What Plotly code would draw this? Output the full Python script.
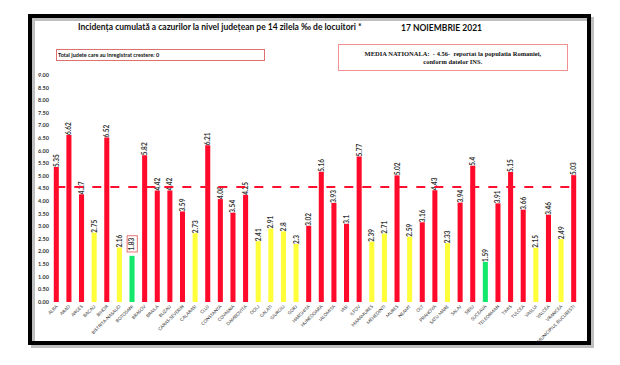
import plotly.graph_objects as go

counties = ["ALBA", "ARAD", "ARGES", "BACAU", "BIHOR", "BISTRITA-NASAUD", "BOTOSANI",
            "BRASOV", "BRAILA", "BUZAU", "CARAS-SEVERIN", "CALARASI", "CLUJ", "CONSTANTA",
            "COVASNA", "DAMBOVITA", "DOLJ", "GALATI", "GIURGIU", "GORJ", "HARGHITA",
            "HUNEDOARA", "IALOMITA", "IASI", "ILFOV", "MARAMURES", "MEHEDINTI", "MURES",
            "NEAMT", "OLT", "PRAHOVA", "SATU MARE", "SALAJ", "SIBIU", "SUCEAVA",
            "TELEORMAN", "TIMIS", "TULCEA", "VASLUI", "VALCEA", "VRANCEA",
            "MUNICIPIUL BUCURESTI"]
incidence = [5.35, 6.62, 4.27, 2.75, 6.52, 2.16, 1.83, 5.82, 4.42, 4.42, 3.59, 2.73,
             6.21, 4.08, 3.54, 4.25, 2.41, 2.91, 2.8, 2.3, 3.02, 5.16, 3.93, 3.1, 5.77,
             2.39, 2.71, 5.02, 2.59, 3.16, 4.43, 2.33, 3.94, 5.4, 1.59, 3.91, 5.15, 3.66,
             2.15, 3.46, 2.49, 5.03]
national_mean = 4.56
boxed_county = "BOTOSANI"
y_ticks = [i * 0.5 for i in range(19)]

RED, YELLOW, GREEN = "#FF0A2A", "#FFFF3A", "#12E86A"
colors = [RED if v >= 3 else (YELLOW if v >= 2 else GREEN) for v in incidence]
labels = ["" if c == boxed_county else f"{v:g}" for c, v in zip(counties, incidence)]

fig = go.Figure()
fig.add_trace(go.Bar(
    x=counties, y=incidence, marker=dict(color=colors, line=dict(width=0)),
    text=labels, textposition="outside", textangle=-90, constraintext="none",
    textfont=dict(family="Lato", size=6.5, color="#333333", weight="bold"),
    cliponaxis=False, showlegend=False,
))
fig.add_trace(go.Scatter(
    x=counties, y=[national_mean] * len(counties), mode="lines",
    line=dict(color="#FF1030", width=2, dash="dash"), showlegend=False,
    hoverinfo="skip",
))

bi = counties.index(boxed_county)
fig.add_annotation(
    x=counties[bi], y=incidence[bi], xref="x", yref="y", text=f"{incidence[bi]:g}",
    textangle=-90, showarrow=False, yanchor="bottom", yshift=3,
    font=dict(family="Lato", size=6.5, color="#333333", weight="bold"),
    bordercolor="#E05050", borderwidth=0.8, borderpad=1,
)

# page has an 8px body margin: work in page pixels, convert to figure pixels
OFF = 8
W, H = 604, 349
L, R, T, B = 50 - OFF, 40 - OFF - 16 + 16, 75 - OFF, 63 - OFF - 8
# plot area (page px): x 50..580, y 75..302
R = W - (580 - OFF)
B = H - (302 - OFF)
pw, ph = W - L - R, H - T - B


def px(x):
    return (x - OFF - L) / pw


def py(y):
    return (H - B - (y - OFF)) / ph


# frame with shadow
fig.add_shape(type="rect", xref="paper", yref="paper",
              x0=px(33), x1=px(592), y0=py(346), y1=py(19),
              line=dict(color="rgba(0,0,0,0.25)", width=4))
fig.add_shape(type="rect", xref="paper", yref="paper",
              x0=px(30), x1=px(589), y0=py(343), y1=py(16),
              line=dict(color="black", width=4))

common = dict(xref="paper", yref="paper", showarrow=False, xanchor="center", yanchor="middle")
fig.add_annotation(
    x=px(220), y=py(27),
    text="Incidența cumulată a cazurilor la nivel județean pe 14 zilela ‰ de locuitori *",
    font=dict(family="Lato", size=8.5, color="#111111", weight="bold"), **common,
)
fig.add_annotation(
    x=px(441), y=py(28), text="17 NOIEMBRIE 2021",
    font=dict(family="Lato", size=8.5, color="#111111", weight="bold"), **common,
)
fig.add_annotation(
    x=px(160.5), y=py(55),
    text="Total judete care au inregistrat crestere: 0", align="left",
    width=205, height=8, borderpad=1,
    bordercolor="#E07070", borderwidth=1,
    font=dict(family="Lato", size=5.5, color="#111111", weight="bold"), **common,
)
fig.add_annotation(
    x=px(453), y=py(57.5),
    text="MEDIA NATIONALA:  - 4.56-  reportat la populatia Romaniei,<br>conform datelor INS.",
    align="center", width=226, height=23, borderpad=1,
    bordercolor="#F09090", borderwidth=1,
    font=dict(family="Liberation Serif", size=6.5, color="#111111", weight="bold"), **common,
)

fig.update_layout(
    width=W, height=H, margin=dict(l=L, r=R, t=T, b=B),
    paper_bgcolor="white", plot_bgcolor="white", bargap=0.6,
    xaxis=dict(tickangle=-45, tickfont=dict(family="Lato", size=4.5, color="#333333"),
               showgrid=False, showline=False, ticks="", automargin=False),
    yaxis=dict(range=[0, 9], tickvals=y_ticks, tickformat=".2f",
               tickfont=dict(family="Lato", size=5.5, color="#333333", weight="bold"),
               showgrid=False, zeroline=False, showline=False, automargin=False),
)

fig.write_html("out.html")
